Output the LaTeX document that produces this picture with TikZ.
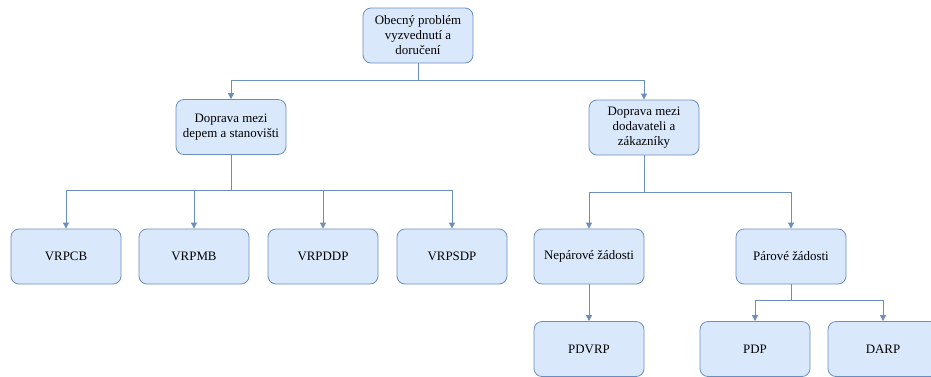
\documentclass[tikz,border=0pt]{standalone}
\usepackage{fontspec}
\setmainfont{Liberation Serif}
\usetikzlibrary{arrows.meta}
\definecolor{boxfill}{HTML}{DAE8FC}
\definecolor{boxline}{HTML}{6C8EBF}
\tikzset{
  box/.style={draw=boxline, fill=boxfill, line width=0.8pt, rounded corners=8pt,
    minimum width=110pt, minimum height=55pt, align=center, inner sep=2pt,
    font=\fontsize{12.9pt}{15pt}\selectfont},
  edge/.style={draw=boxline, line width=0.8pt,
    -{Triangle[length=6pt,width=6pt]}},
  bus/.style={draw=boxline, line width=0.8pt}
}
\begin{document}
\begin{tikzpicture}[x=1pt,y=-1pt]
  \useasboundingbox (0,0) rectangle (931,376);
  \clip (0,0) rectangle (931,376);
  % top level
  \node[box] (root) at (418,35.5) {Obecný problém\\vyzvednutí a\\doručení};
  % second level
  \node[box] (depot) at (231,127) {Doprava mezi\\depem a stanovišti};
  \node[box] (supp) at (644,127.5) {Doprava mezi\\dodavateli a\\zákazníky};
  % third level
  \node[box] (vrpcb) at (66,256.5) {VRPCB};
  \node[box] (vrpmb) at (194,256.5) {VRPMB};
  \node[box] (vrpddp) at (323,256.5) {VRPDDP};
  \node[box] (vrpsdp) at (452,256.5) {VRPSDP};
  \node[box] (unpaired) at (589,256.5) {Nepárové žádosti};
  \node[box] (paired) at (791,256.5) {Párové žádosti};
  % fourth level
  \node[box] (pdvrp) at (589,349) {PDVRP};
  \node[box] (pdp) at (755,349) {PDP};
  \node[box] (darp) at (883,349) {DARP};
  % tree connectors
  \coordinate (b0) at (418,80);
  \coordinate (b1) at (231,190);
  \coordinate (b2) at (644,192);
  \coordinate (b3) at (791,300);
  \draw[bus] (root.south) -- (b0);
  \draw[edge] (b0) -| (depot.north);
  \draw[edge] (b0) -| (supp.north);
  \draw[bus] (depot.south) -- (b1);
  \foreach \n in {vrpcb,vrpmb,vrpddp,vrpsdp} \draw[edge] (b1) -| (\n.north);
  \draw[bus] (supp.south) -- (b2);
  \draw[edge] (b2) -| (unpaired.north);
  \draw[edge] (b2) -| (paired.north);
  \draw[edge] (unpaired.south) -- (pdvrp.north);
  \draw[bus] (paired.south) -- (b3);
  \draw[edge] (b3) -| (pdp.north);
  \draw[edge] (b3) -| (darp.north);
\end{tikzpicture}
\end{document}
